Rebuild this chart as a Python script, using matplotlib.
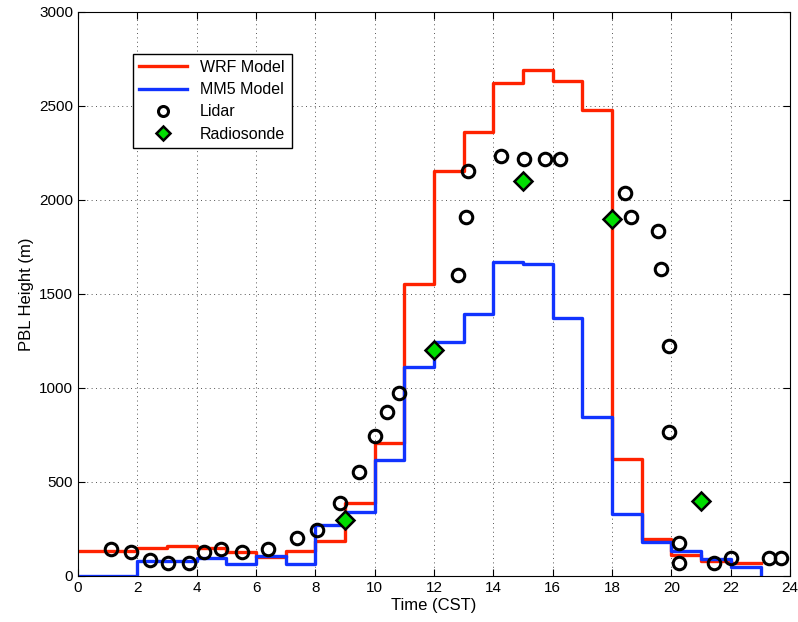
import matplotlib
matplotlib.use("Agg")
import matplotlib.pyplot as plt
import numpy as np

plt.rcParams["font.family"] = ["Liberation Sans", "DejaVu Sans"]

# hourly model output (stairs, value holds until next hour)
hours = np.arange(0, 24)
wrf = [135, 135, 147, 160, 147, 129, 99, 135, 186, 390, 709, 1553, 2156, 2360,
       2622, 2690, 2633, 2480, 624, 195, 112, 80, 67, 67]
mm5 = [0, 0, 80, 80, 97, 64, 106, 64, 271, 342, 617, 1110, 1246, 1392,
       1667, 1661, 1374, 844, 330, 179, 133, 90, 50, 0]

lidar_t = [1.10, 1.78, 2.43, 3.05, 3.74, 4.25, 4.82, 5.53, 6.42, 7.37, 8.07, 8.83,
           9.46, 10.02, 10.40, 10.83, 12.82, 13.08, 13.13, 14.27, 15.03, 15.74, 16.24,
           18.45, 18.63, 19.53, 19.66, 19.91, 19.91, 20.27, 20.27, 21.44, 22.0,
           23.27, 23.70]
lidar_h = [142, 129, 83, 69, 69, 129, 144, 129, 144, 200, 245, 390,
           552, 743, 870, 972, 1603, 1908, 2156, 2231, 2216, 2216, 2216,
           2039, 1908, 1835, 1633, 1222, 768, 174, 67, 67, 98,
           98, 98]

sonde_t = [9, 12, 15, 18, 21]
sonde_h = [300, 1200, 2100, 1900, 400]

fig = plt.figure(figsize=(7.98, 6.22), dpi=100)
ax = fig.add_axes([0.0977, 0.074, 0.8925, 0.907])

ax.step(hours, wrf, where="post", color="#ff2200", lw=2.4, label="WRF Model", zorder=2)
ax.step(hours, mm5, where="post", color="#1133ff", lw=2.4, label="MM5 Model", zorder=2)
ax.plot(lidar_t, lidar_h, "o", ms=9, mfc="none", mec="black", mew=2.2,
        label="Lidar", zorder=3)
ax.plot(sonde_t, sonde_h, "D", ms=9, mfc="#00dd00", mec="black", mew=1.8,
        label="Radiosonde", zorder=4)

ax.set_xlim(0, 24)
ax.set_ylim(0, 3000)
ax.set_xticks(np.arange(0, 25, 2))
ax.set_yticks(np.arange(0, 3001, 500))
ax.grid(True, linestyle=(0, (1, 3.5)), color="#555555", lw=0.7)
ax.tick_params(direction="in", top=True, right=True, labelsize=11, length=5)
ax.set_xlabel("Time (CST)", fontsize=12, labelpad=2)
ax.set_ylabel("PBL Height (m)", fontsize=12)

leg = ax.legend(loc="upper left", bbox_to_anchor=(0.077, 0.926), borderaxespad=0,
                fontsize=11.5, fancybox=False, edgecolor="black", framealpha=1,
                handlelength=3.0, labelspacing=0.45, markerscale=0.8)
leg.get_frame().set_linewidth(1.0)

fig.savefig("out.png", dpi=100)
